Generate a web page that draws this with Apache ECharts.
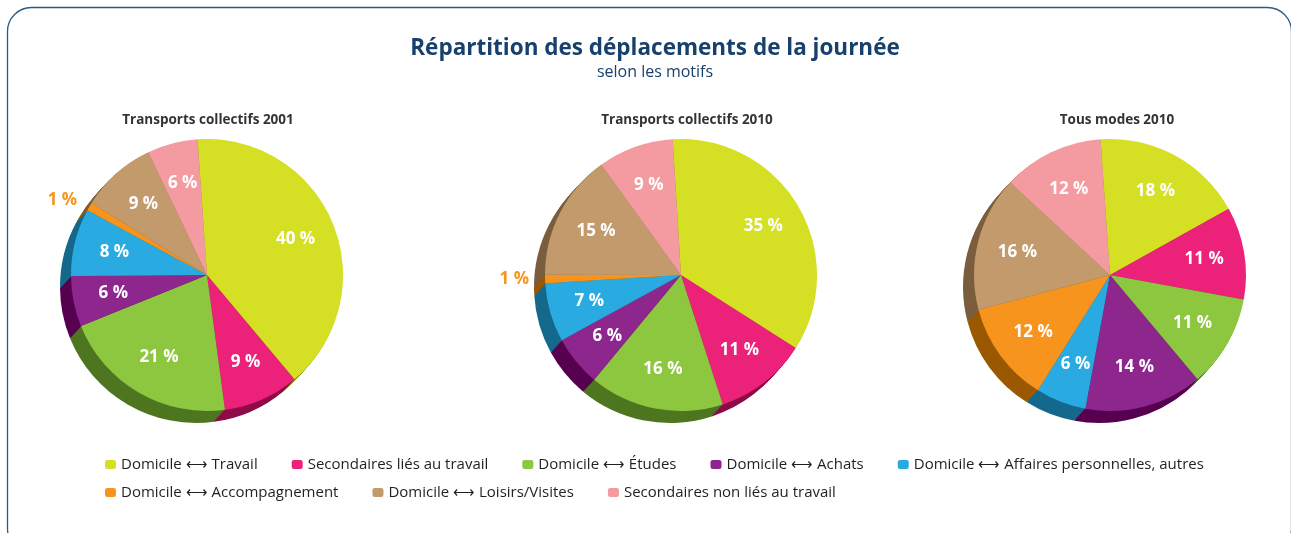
<!DOCTYPE html>
<html><head><meta charset="utf-8">
<script src="https://cdn.jsdelivr.net/npm/echarts@6/dist/echarts.min.js"></script>
<style>html,body{margin:0;padding:0;background:#fff}#c{width:1291px;height:533px}</style>
</head><body><div id="c"></div>
<script>
// ---- data ----
const categories = [
  'Domicile \u27F7 Travail',
  'Secondaires liés au travail',
  'Domicile \u27F7 Études',
  'Domicile \u27F7 Achats',
  'Domicile \u27F7 Affaires personnelles, autres',
  'Domicile \u27F7 Accompagnement',
  'Domicile \u27F7 Loisirs/Visites',
  'Secondaires non liés au travail'
];
const tc2001 = [40, 9, 21, 6, 8, 1, 9, 6];
const tc2010 = [35, 11, 16, 6, 7, 1, 15, 9];
const tm2010 = [18, 11, 11, 14, 6, 12, 16, 12];
const pieTitles = ['Transports collectifs 2001', 'Transports collectifs 2010', 'Tous modes 2010'];
const mainTitle = 'Répartition des déplacements de la journée';
const subTitle = 'selon les motifs';

// ---- styles ----
const colors = ['#D5DF24', '#EC217A', '#8DC63F', '#8D278E', '#29ABE2', '#F7941D', '#C39A6C', '#F49BA2'];
const darkColors = ['#8C9414', '#8F0C48', '#4E7620', '#570050', '#14698C', '#9A5800', '#7A5E3E', '#A25B62'];
const FONT = 'Open Sans';
const pies = [
  { values: tc2001, center: [207, 275], start: 94, titleX: 203, lineLen: 12 },
  { values: tc2010, center: [681, 275], start: 93.5, titleX: 682, lineLen: 14 },
  { values: tm2010, center: [1110, 275], start: 94, titleX: 1112, lineLen: 12 }
];
const R = 136, DX = -11, DY = 12, LAYERS = 12;

const series = [];
pies.forEach((p, pi) => {
  for (let k = LAYERS; k >= 1; k--) {
    series.push({
      type: 'pie', silent: true, z: 1,
      center: [p.center[0] + DX * k / LAYERS, p.center[1] + DY * k / LAYERS],
      radius: R, startAngle: p.start, clockwise: true,
      label: { show: false }, labelLine: { show: false },
      data: p.values.map((v, i) => ({ name: categories[i], value: v, itemStyle: { color: darkColors[i] } }))
    });
  }
  series.push({
    type: 'pie', silent: true, z: 3,
    center: p.center, radius: R, startAngle: p.start, clockwise: true,
    avoidLabelOverlap: false,
    labelLine: { show: false, length: p.lineLen, length2: 0 },
    data: p.values.map((v, i) => ({
      name: categories[i], value: v, itemStyle: { color: colors[i] },
      label: v < 2 ? {
        show: true, position: 'outside', formatter: '{c} %', distanceToLabelLine: 2,
        color: colors[i], fontFamily: FONT, fontWeight: 'bold', fontSize: 17
      } : { show: false }
    }))
  });
  series.push({
    type: 'pie', silent: true, z: 4,
    center: p.center, radius: [0, R * 1.36], startAngle: p.start, clockwise: true,
    avoidLabelOverlap: false,
    itemStyle: { color: 'rgba(0,0,0,0)' },
    labelLine: { show: false },
    data: p.values.map((v, i) => ({
      name: categories[i], value: v,
      label: v >= 2 ? {
        show: true, position: 'inside', formatter: '{c} %',
        color: '#fff', fontFamily: FONT, fontWeight: 'bold', fontSize: 17
      } : { show: false }
    }))
  });
});

const titles = [{
  text: mainTitle, subtext: subTitle, left: 650, top: 32, textAlign: 'center', itemGap: 4,
  textStyle: { fontFamily: FONT, fontWeight: 'bold', fontSize: 22.5, color: '#17406D' },
  subtextStyle: { fontFamily: FONT, fontSize: 16, color: '#17406D' }
}];
pies.forEach((p, i) => titles.push({
  text: pieTitles[i], left: p.titleX, top: 108, textAlign: 'center',
  textStyle: { fontFamily: FONT, fontWeight: 'bold', fontSize: 13.5, color: '#333' }
}));

const legendItem = i => ({ name: categories[i], itemStyle: { color: colors[i] } });
const legendBase = {
  left: 100, icon: 'roundRect', itemWidth: 11, itemHeight: 9, itemGap: 34, selectedMode: false,
  textStyle: { fontFamily: FONT, fontSize: 15, color: '#231F20' }
};

const chart = echarts.init(document.getElementById('c'), null, { renderer: 'canvas' });
chart.setOption({
  animation: false,
  backgroundColor: '#fff',
  title: titles,
  legend: [
    Object.assign({}, legendBase, { top: 452, data: [0, 1, 2, 3, 4].map(legendItem) }),
    Object.assign({}, legendBase, { top: 480, data: [5, 6, 7].map(legendItem) })
  ],
  graphic: [{
    type: 'rect', silent: true, z: 0,
    shape: { x: 7.5, y: 7.5, width: 1284, height: 545, r: 24 },
    style: { fill: 'none', stroke: '#2B5A82', lineWidth: 1.3 }
  }],
  series: series
});
</script>
</body></html>
